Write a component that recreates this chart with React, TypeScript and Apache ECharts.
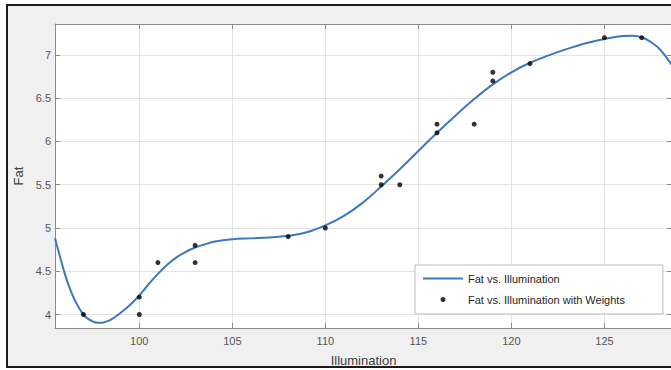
import React, { useEffect, useRef } from "react";
import * as echarts from "echarts";

const pointX = [97, 100, 100, 101, 103, 103, 108, 110, 113, 113, 114, 116, 116, 118, 119, 119, 121, 125, 127];
const pointY = [4.0, 4.2, 4.0, 4.6, 4.8, 4.6, 4.9, 5.0, 5.6, 5.5, 5.5, 6.2, 6.1, 6.2, 6.8, 6.7, 6.9, 7.2, 7.2];

const fitX = [95.47, 95.75, 96, 96.25, 96.5, 96.75, 97, 97.25, 97.5, 97.75, 98, 98.25, 98.5, 98.75, 99, 99.5, 100, 100.5, 101, 101.5, 102, 102.5, 103, 103.5, 104, 105, 106, 107, 108, 109, 110, 111, 112, 113, 114, 115, 116, 117, 118, 119, 120, 121, 122, 123, 124, 125, 126, 126.5, 127, 127.5, 128, 128.63];
const fitY = [4.88, 4.66, 4.47, 4.31, 4.18, 4.08, 4.0, 3.95, 3.92, 3.905, 3.905, 3.92, 3.945, 3.98, 4.02, 4.11, 4.22, 4.35, 4.47, 4.575, 4.66, 4.725, 4.775, 4.81, 4.84, 4.87, 4.88, 4.89, 4.91, 4.95, 5.03, 5.14, 5.29, 5.48, 5.68, 5.89, 6.1, 6.3, 6.49, 6.66, 6.8, 6.91, 6.995, 7.07, 7.135, 7.185, 7.22, 7.222, 7.205, 7.15, 7.06, 6.88];

const xTitle = "Illumination";
const yTitle = "Fat";
const lineName = "Fat vs. Illumination";
const dotName = "Fat vs. Illumination with Weights";

const FONT = "'Liberation Sans', Arial, sans-serif";
const AXIS_COLOR = "#8a8a8a";
const GRID_COLOR = "#e4e4e4";
const LINE_COLOR = "#3d78bd";

export default function App() {
  const ref = useRef<HTMLDivElement>(null);
  useEffect(() => {
    if (!ref.current) return;
    const chart = echarts.init(ref.current, undefined, { renderer: "svg" });
    const xRange = { min: 95.47, max: 128.63, minInterval: 5, maxInterval: 5 };
    const yRange = { min: 3.844, max: 7.358, minInterval: 0.5, maxInterval: 0.5 };
    chart.setOption({
      animation: false,
      backgroundColor: "#ffffff",
      textStyle: { fontFamily: FONT },
      graphic: [
        {
          type: "rect",
          z: -10,
          silent: true,
          shape: { x: 7, y: 5, width: 700, height: 362 },
          style: { fill: "#f0f0f0", stroke: "#1b1b1b", lineWidth: 2 },
        },
      ],
      grid: {
        left: 55,
        top: 24,
        right: -1,
        bottom: 42,
        show: true,
        backgroundColor: "#ffffff",
        borderWidth: 0,
        containLabel: false,
        outerBoundsMode: "none",
      },
      legend: {
        orient: "vertical",
        left: 415,
        top: 265,
        padding: [8, 38, 9, 8],
        itemGap: 10,
        itemWidth: 40,
        itemHeight: 5,
        backgroundColor: "#ffffff",
        borderColor: "#bdbdbd",
        borderWidth: 1,
        textStyle: { fontSize: 11, color: "#262626", fontFamily: FONT },
        data: [
          { name: lineName, icon: "path://M0,0H40V2H0Z", itemStyle: { color: LINE_COLOR } },
          { name: dotName, icon: "circle" },
        ],
      },
      xAxis: [
        {
          type: "value",
          position: "bottom",
          ...xRange,
          name: xTitle,
          nameLocation: "middle",
          nameGap: 26,
          nameTextStyle: { fontSize: 13, color: "#404040", fontFamily: FONT },
          axisLine: { show: true, lineStyle: { color: AXIS_COLOR, width: 1 } },
          axisTick: { show: true, inside: true, length: 5, lineStyle: { color: AXIS_COLOR } },
          axisLabel: { fontSize: 11, color: "#555555", margin: 7, fontFamily: FONT, showMinLabel: false, showMaxLabel: false },
          splitLine: { show: true, lineStyle: { color: GRID_COLOR, width: 1 } },
        },
        {
          type: "value",
          position: "top",
          ...xRange,
          axisLine: { show: true, lineStyle: { color: AXIS_COLOR, width: 1 } },
          axisTick: { show: true, inside: true, length: 5, lineStyle: { color: AXIS_COLOR } },
          axisLabel: { show: false },
          splitLine: { show: false },
        },
      ],
      yAxis: [
        {
          type: "value",
          position: "left",
          ...yRange,
          name: yTitle,
          nameLocation: "middle",
          nameGap: 25,
          nameRotate: 90,
          nameTextStyle: { fontSize: 13, color: "#404040", fontFamily: FONT },
          axisLine: { show: true, lineStyle: { color: AXIS_COLOR, width: 1 } },
          axisTick: { show: true, inside: true, length: 5, lineStyle: { color: AXIS_COLOR } },
          axisLabel: { fontSize: 11, color: "#555555", margin: 4, fontFamily: FONT, showMinLabel: false, showMaxLabel: false },
          splitLine: { show: true, lineStyle: { color: GRID_COLOR, width: 1 } },
        },
        {
          type: "value",
          position: "right",
          ...yRange,
          axisLine: { show: true, lineStyle: { color: AXIS_COLOR, width: 1 } },
          axisTick: { show: true, inside: true, length: 5, lineStyle: { color: AXIS_COLOR } },
          axisLabel: { show: false },
          splitLine: { show: false },
        },
      ],
      series: [
        {
          name: lineName,
          type: "line",
          xAxisIndex: 0,
          yAxisIndex: 0,
          data: fitX.map((x, i) => [x, fitY[i]]),
          smooth: 0.4,
          symbol: "none",
          lineStyle: { color: LINE_COLOR, width: 2 },
          itemStyle: { color: LINE_COLOR },
          clip: true,
          z: 3,
        },
        {
          name: dotName,
          type: "scatter",
          xAxisIndex: 0,
          yAxisIndex: 0,
          data: pointX.map((x, i) => [x, pointY[i]]),
          symbol: "circle",
          symbolSize: 5,
          itemStyle: { color: "#000000" },
          z: 4,
        },
      ],
    });
    return () => chart.dispose();
  }, []);
  return (
    <div
      ref={ref}
      style={{ position: "absolute", left: 0, top: 0, width: 671, height: 370 }}
    />
  );
}
